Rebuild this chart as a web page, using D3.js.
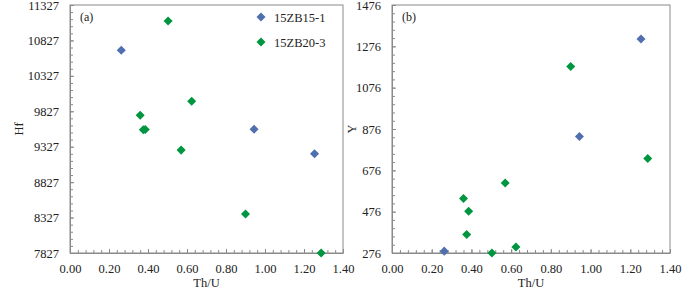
<!DOCTYPE html>
<head>
    <meta charset="utf-8">
    <script src="https://d3js.org/d3.v7.min.js"></script>
    <style>
        body { margin: 0; background: #fff; }
        svg text { font-family: "Liberation Serif", "Times New Roman", serif; fill: #222; }
        .axis path, .axis line { stroke: #8a8a8a; }
        .axis text { font-size: 12.5px; }
    </style>
</head>
<body>
<svg id="chart" width="700" height="290"></svg>
<script>
    // dados ------------------------------------------------------------
    var series = ["15ZB15-1", "15ZB20-3"];
    var colors = ["#4f6fae", "#00963f"];

    var thuBlue = [0.263, 0.944, 1.254];
    var hfBlue = [10688, 9575, 9227];
    var yBlue = [285, 840, 1312];

    var thuGreen = [0.36, 0.376, 0.386, 0.503, 0.57, 0.624, 0.90, 1.288];
    var hfGreen = [9772, 9565, 9570, 11101, 9279, 9969, 8377, 7827];
    var yGreen = [540, 366, 478, 276, 615, 305, 1178, 733];

    var xTicks = [0, 0.2, 0.4, 0.6, 0.8, 1.0, 1.2, 1.4];
    var hfTicks = [7827, 8327, 8827, 9327, 9827, 10327, 10827, 11327];
    var yTicks = [276, 476, 676, 876, 1076, 1276, 1476];

    var svg = d3.select("#chart");

    function painel(opt) {
        var x = d3.scaleLinear().domain([0, 1.4]).range([opt.left, opt.right]);
        var y = d3.scaleLinear().domain([opt.yTicks[0], opt.yTicks[opt.yTicks.length - 1]])
            .range([opt.bottom, opt.top]);

        var g = svg.append("g");

        // moldura
        g.append("rect")
            .attr("x", opt.left).attr("y", opt.top)
            .attr("width", opt.right - opt.left).attr("height", opt.bottom - opt.top)
            .attr("fill", "none").attr("stroke", "#8a8a8a");

        // ticks menores (para dentro)
        var xMinor = d3.range(0, 1.4001, 0.04);
        g.append("g").attr("class", "axis")
            .attr("transform", "translate(0," + opt.bottom + ")")
            .call(d3.axisBottom(x).tickValues(xMinor).tickSize(-3).tickFormat(""))
            .select(".domain").remove();
        var yMinor = d3.range(opt.yTicks[0], opt.yTicks[opt.yTicks.length - 1] + 1, opt.minor);
        g.append("g").attr("class", "axis")
            .attr("transform", "translate(" + opt.left + ",0)")
            .call(d3.axisLeft(y).tickValues(yMinor).tickSize(-3).tickFormat(""))
            .select(".domain").remove();

        // eixos principais
        g.append("g").attr("class", "axis")
            .attr("transform", "translate(0," + opt.bottom + ")")
            .call(d3.axisBottom(x).tickValues(xTicks).tickSizeInner(-4).tickSizeOuter(0)
                .tickPadding(11).tickFormat(d3.format(".2f")));
        g.append("g").attr("class", "axis")
            .attr("transform", "translate(" + opt.left + ",0)")
            .call(d3.axisLeft(y).tickValues(opt.yTicks).tickSizeInner(-4).tickSizeOuter(0)
                .tickPadding(11).tickFormat(d3.format("d")));

        // titulos
        g.append("text")
            .attr("x", (opt.left + opt.right) / 2).attr("y", 287)
            .attr("text-anchor", "middle").attr("font-size", "12.5px")
            .text("Th/U");
        g.append("text")
            .attr("transform", "translate(" + opt.titleX + "," + (opt.top + opt.bottom) / 2 + ") rotate(-90)")
            .attr("text-anchor", "middle").attr("font-size", "12.5px")
            .text(opt.title);
        g.append("text")
            .attr("x", opt.left + 10).attr("y", opt.top + 16)
            .attr("font-size", "12px")
            .text(opt.tag);

        // pontos
        var diamond = d3.symbol().type(d3.symbolDiamond2).size(52);
        [[thuBlue, opt.blue, 0], [thuGreen, opt.green, 1]].forEach(function(s) {
            g.append("g").selectAll("path")
                .data(s[0].map(function(d, i) { return [d, s[1][i]]; }))
                .enter().append("path")
                .attr("d", diamond)
                .attr("fill", colors[s[2]])
                .attr("transform", function(d) {
                    return "translate(" + x(d[0]) + "," + y(d[1]) + ")";
                });
        });
        return g;
    }

    var ga = painel({left: 70, right: 343, top: 5, bottom: 253, yTicks: hfTicks, minor: 100,
        blue: hfBlue, green: hfGreen, title: "Hf", titleX: 23, tag: "(a)"});
    painel({left: 392, right: 670, top: 5, bottom: 253, yTicks: yTicks, minor: 40,
        blue: yBlue, green: yGreen, title: "Y", titleX: 356, tag: "(b)"});

    // legenda
    var lg = ga.append("g").attr("transform", "translate(261,17)");
    series.forEach(function(s, i) {
        lg.append("path")
            .attr("d", d3.symbol().type(d3.symbolDiamond2).size(52))
            .attr("fill", colors[i])
            .attr("transform", "translate(0," + (i * 25) + ")");
        lg.append("text")
            .attr("x", 13).attr("y", i * 25 + 4.5)
            .attr("font-size", "12.5px")
            .text(s);
    });
</script>
</body>
